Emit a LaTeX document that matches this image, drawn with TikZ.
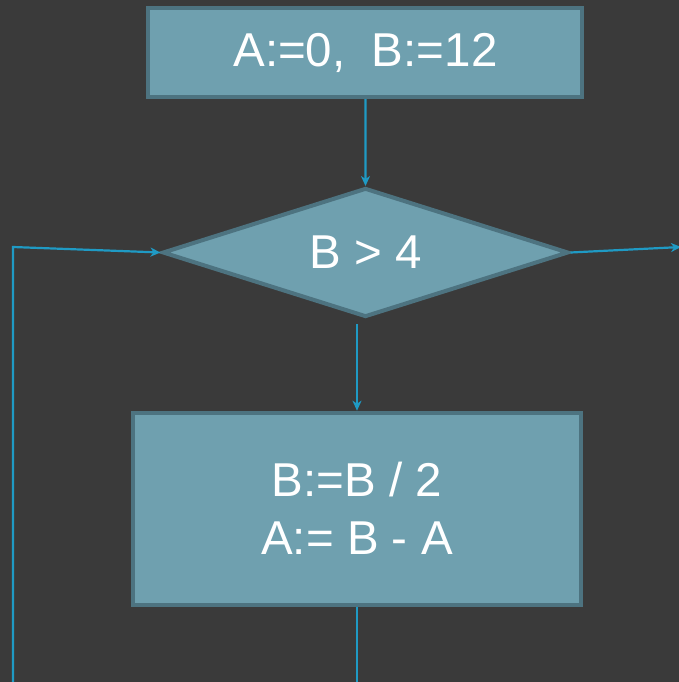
\documentclass[tikz,border=0pt]{standalone}
\usepackage{fontspec}
\setmainfont{Liberation Sans}
\usetikzlibrary{arrows.meta,shapes.geometric,calc}
\definecolor{bgcol}{HTML}{3A3A3A}
\definecolor{boxfill}{HTML}{6FA0AF}
\definecolor{boxborder}{HTML}{4D7380}
\definecolor{linkblue}{HTML}{1F9AC4}
\begin{document}
\begin{tikzpicture}[x=1pt,y=-1pt,
  proc/.style={draw=boxborder, fill=boxfill, line width=4pt, text=white,
    font=\fontsize{47.5}{58}\selectfont, inner sep=0pt, align=center},
  dec/.style={proc, diamond, shape aspect=3.15},
  conn/.style={draw=linkblue, line width=2.2pt},
  arr/.style={conn, -{Stealth[length=10pt,width=9pt,inset=3pt]}}]
\useasboundingbox (0,0) rectangle (679,682);
\fill[bgcol] (0,0) rectangle (679,682);
\node[proc, minimum width=434pt, minimum height=89.4pt] (box1) at (365.4,52.5) {A:=0,\ \ B:=12};
\node[dec, minimum width=406pt, minimum height=129pt] (dia) at (365.5,252.5) {B > 4};
\node[proc, minimum width=448pt, minimum height=192pt] (box2) at (357,508.7) {B:=B / 2\\A:= B - A};
\coordinate (corner) at (13,247);
\coordinate (loopin) at (13,686);
\coordinate (out2) at (357,686);
\coordinate (exitR) at (681,247);
\coordinate (d2) at ($(box2.north |- dia.south)+(0,5)$);
\draw[arr] (box1.south) -- (dia.north);
\draw[arr] (d2) -- (box2.north);
\draw[conn] (box2.south) -- (out2);
\draw[arr] (loopin) -- (corner) -- (dia.west);
\draw[arr] (dia.east) -- (exitR);
\end{tikzpicture}
\end{document}
